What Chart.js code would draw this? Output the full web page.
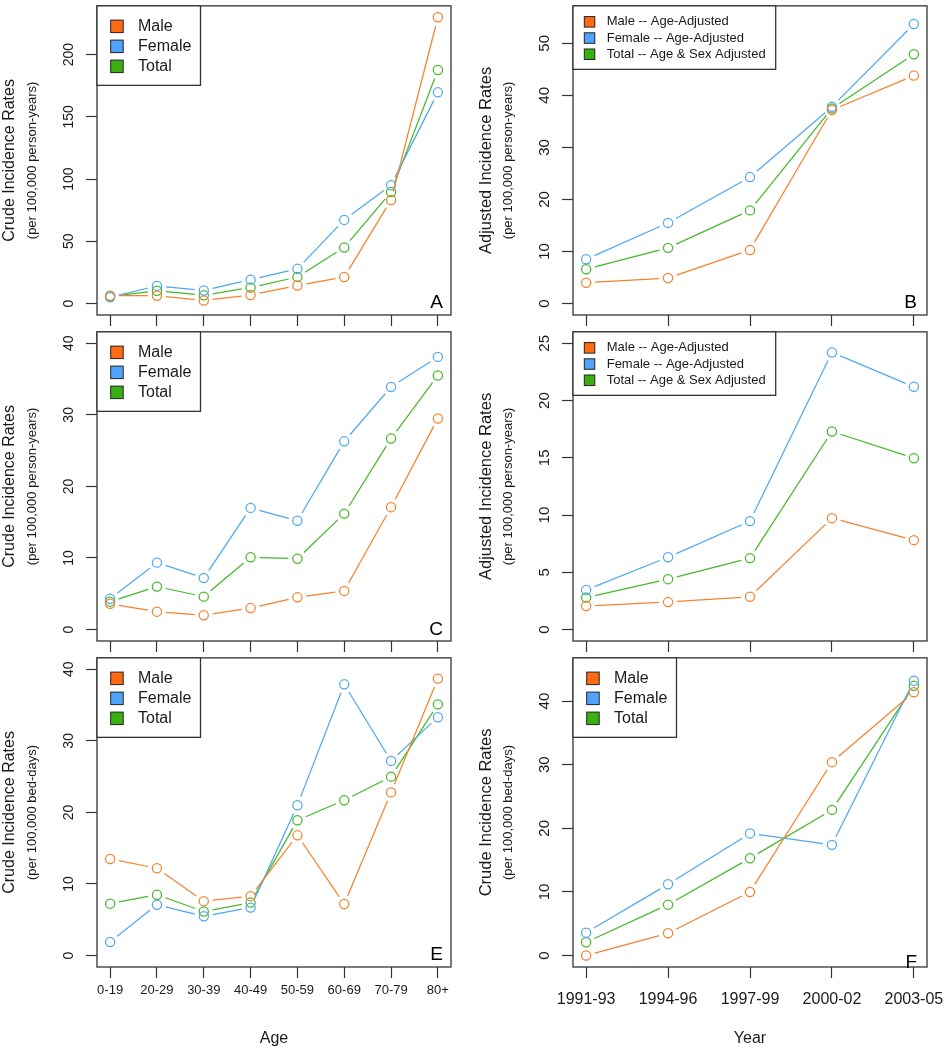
<!DOCTYPE html>
<html>
<head>
<meta charset="utf-8">
<script src="https://cdn.jsdelivr.net/npm/chart.js@4/dist/chart.umd.min.js"></script>
<style>
  html, body { margin: 0; padding: 0; background: #fff; }
  #wrap { position: relative; width: 945px; height: 1050px; overflow: hidden; }
  #wrap canvas { position: absolute; }
</style>
</head>
<body>
<div id="wrap"></div>
<script>
// ====== Data ======
const ageGroups = ["0-19", "20-29", "30-39", "40-49", "50-59", "60-69", "70-79", "80+"];
const yearGroups = ["1991-93", "1994-96", "1997-99", "2000-02", "2003-05"];

const sexLabels = ["Male", "Female", "Total"];
const adjLabels = ["Male -- Age-Adjusted", "Female -- Age-Adjusted", "Total -- Age & Sex Adjusted"];

// A: crude rates by age (person-years)
const maleA = [6.3, 6.3, 2.4, 6.9, 14.5, 21.3, 83.2, 230];
const femaleA = [5.0, 14.2, 10.5, 19.2, 27.9, 67.2, 95.1, 169.7];
const totalA = [5.8, 10.3, 6.6, 12.9, 21.3, 45.0, 89.6, 187.6];

// B: adjusted rates by year (person-years)
const maleB = [4.0, 4.9, 10.3, 37.2, 43.8];
const femaleB = [8.5, 15.5, 24.3, 37.8, 53.7];
const totalB = [6.6, 10.7, 17.9, 37.5, 47.9];

// C: crude rates by age (person-years)
const maleC = [3.6, 2.5, 2.0, 3.0, 4.5, 5.4, 17.1, 29.5];
const femaleC = [4.3, 9.35, 7.2, 17.0, 15.2, 26.3, 33.9, 38.1];
const totalC = [3.9, 6.0, 4.6, 10.1, 9.9, 16.2, 26.7, 35.5];

// D: adjusted rates by year (person-years)
const maleD = [2.06, 2.4, 2.86, 9.73, 7.81];
const femaleD = [3.46, 6.32, 9.47, 24.2, 21.2];
const totalD = [2.8, 4.4, 6.24, 17.3, 14.96];

// E: crude rates by age (bed-days)
const maleE = [13.5, 12.2, 7.6, 8.3, 16.8, 7.2, 22.8, 38.7];
const femaleE = [1.9, 7.1, 5.5, 6.7, 21.0, 37.9, 27.2, 33.3];
const totalE = [7.25, 8.5, 6.15, 7.4, 18.9, 21.7, 25.0, 35.1];

// F: crude rates by year (bed-days)
const maleF = [0.0, 3.5, 10.0, 30.4, 41.4];
const femaleF = [3.6, 11.2, 19.2, 17.4, 43.2];
const totalF = [2.1, 8.0, 15.3, 22.9, 42.4];

// y limits (before R-style 4% extension) and tick labels
const ylimA = [0, 230], ticksA = [0, 50, 100, 150, 200];
const ylimB = [0, 55], ticksB = [0, 10, 20, 30, 40, 50];
const ylimC = [0, 40], ticksC = [0, 10, 20, 30, 40];
const ylimD = [0, 25], ticksD = [0, 5, 10, 15, 20, 25];
const ylimE = [0, 40], ticksE = [0, 10, 20, 30, 40];
const ylimF = [0, 45], ticksF = [0, 10, 20, 30, 40];

// ====== Styles ======
const lineColors = ["#f5822e", "#4fa8f0", "#46b82a"];
const fillColors = ["#ff6a13", "#4fa3fa", "#3aaf12"];
const FONT = '"Liberation Sans", Arial, Helvetica, sans-serif';
const INK = "#1a1a1a";
const GAP = 9;

const colLeft = [0, 472], colWidth = [472, 473];
const boxLeft = [97, 101], boxRight = [451, 455];
const boxTop = [1, 327, 653], boxBottom = [315, 641, 967];

const bigLegend = { w: 103.5, h: 79.5, sq: 12.5, sqX: 13.7, textX: 41, row0: 20.5, rowH: 20, font: 16 };
const smallLegend = { w: 202.7, h: 63.5, sq: 10.5, sqX: 11.3, textX: 33.7, row0: 16, rowH: 16.2, font: 13 };

// line segments stop short of the points, like R's type="b"
function gapDash(ctx) {
  const L = Math.hypot(ctx.p1.x - ctx.p0.x, ctx.p1.y - ctx.p0.y);
  const g = Math.min(GAP, L / 2);
  return [0, g, Math.max(L - 2 * g, 0), g];
}

// ====== Panel decorations: box, rotated y labels, titles, legend, letter ======
const panelDecor = {
  id: "panelDecor",
  afterDraw(chart, args, o) {
    const { ctx, chartArea: a, scales } = chart;
    ctx.save();

    ctx.strokeStyle = "#333";
    ctx.lineWidth = 1.3;
    ctx.strokeRect(a.left, a.top, a.right - a.left, a.bottom - a.top);

    // y tick labels, rotated
    const y = scales.y;
    ctx.fillStyle = INK;
    ctx.font = `${o.tickSize}px ${FONT}`;
    ctx.textAlign = "center";
    ctx.textBaseline = "middle";
    y.ticks.forEach((t) => {
      ctx.save();
      ctx.translate(a.left - 28, y.getPixelForValue(t.value));
      ctx.rotate(-Math.PI / 2);
      ctx.fillText(String(t.value), 0, 0);
      ctx.restore();
    });

    // y titles
    const cy = (a.top + a.bottom) / 2;
    ctx.save();
    ctx.translate(a.left - 87, cy);
    ctx.rotate(-Math.PI / 2);
    ctx.font = `${o.titleSize}px ${FONT}`;
    ctx.fillText(o.title, 0, 0);
    ctx.restore();
    ctx.save();
    ctx.translate(a.left - 65, cy);
    ctx.rotate(-Math.PI / 2);
    ctx.font = `13px ${FONT}`;
    ctx.fillText(o.sub, 0, 0);
    ctx.restore();

    // legend
    const lg = o.legend;
    ctx.fillStyle = "#fff";
    ctx.fillRect(a.left, a.top, lg.w, lg.h);
    ctx.strokeStyle = "#333";
    ctx.lineWidth = 1.3;
    ctx.strokeRect(a.left, a.top, lg.w, lg.h);
    ctx.font = `${lg.font}px ${FONT}`;
    ctx.textAlign = "left";
    chart.data.datasets.forEach((ds, i) => {
      const ry = a.top + lg.row0 + i * lg.rowH;
      ctx.fillStyle = fillColors[i];
      ctx.fillRect(a.left + lg.sqX, ry - lg.sq / 2, lg.sq, lg.sq);
      ctx.strokeStyle = "#222";
      ctx.lineWidth = 1;
      ctx.strokeRect(a.left + lg.sqX, ry - lg.sq / 2, lg.sq, lg.sq);
      ctx.fillStyle = INK;
      ctx.fillText(ds.label, a.left + lg.textX, ry);
    });

    // panel letter
    if (o.letter) {
      ctx.font = `19px ${FONT}`;
      ctx.textAlign = "right";
      ctx.textBaseline = "alphabetic";
      ctx.fillStyle = "#000";
      ctx.fillText(o.letter, a.right - o.letterDx, a.bottom + o.letterDy);
    }
    ctx.restore();
  },
};

// ====== Build one panel ======
function makePanel(p) {
  const xh = p.row === 2 ? 1050 - boxBottom[2] : 11;
  const showX = p.row === 2;
  const canvas = document.createElement("canvas");
  const top = boxTop[p.row] - 1;
  const height = boxBottom[p.row] - boxTop[p.row] + 1 + xh;
  canvas.width = colWidth[p.col];
  canvas.height = height;
  canvas.style.left = colLeft[p.col] + "px";
  canvas.style.top = top + "px";
  document.getElementById("wrap").appendChild(canvas);

  const n = p.cats.length;
  const xExt = (n - 1) * 0.04;
  const yExt = (p.ylim[1] - p.ylim[0]) * 0.04;

  return new Chart(canvas, {
    type: "line",
    data: {
      datasets: p.series.map((vals, i) => ({
        label: p.labels[i],
        data: vals.map((v, k) => ({ x: k, y: v })),
        borderColor: lineColors[i],
        borderWidth: 1.25,
        tension: 0,
        fill: false,
        pointStyle: "circle",
        pointRadius: 4.6,
        pointBorderWidth: 1.25,
        pointBorderColor: lineColors[i],
        pointBackgroundColor: "rgba(0,0,0,0)",
        segment: { borderDash: gapDash },
      })),
    },
    options: {
      responsive: false,
      animation: false,
      events: [],
      layout: { padding: { top: 1, left: 0, bottom: 0, right: colWidth[p.col] - boxRight[p.col] } },
      plugins: {
        legend: { display: false },
        tooltip: { enabled: false },
        panelDecor: {
          title: p.title,
          sub: p.sub,
          letter: p.letter,
          letterDx: p.col === 0 ? 8 : 10,
          letterDy: p.letterDy,
          tickSize: p.col === 0 ? 14 : 15,
          titleSize: p.col === 0 ? 16 : 16.5,
          legend: p.legend,
        },
      },
      scales: {
        x: {
          type: "linear",
          min: -xExt,
          max: n - 1 + xExt,
          afterBuildTicks: (s) => { s.ticks = p.cats.map((c, i) => ({ value: i })); },
          afterFit: (s) => { s.height = xh; s.paddingLeft = 0; s.paddingRight = 0; },
          grid: { drawOnChartArea: false, drawTicks: true, tickLength: 11, tickColor: "#333", tickWidth: 1.2 },
          border: { display: false },
          ticks: {
            display: showX,
            autoSkip: false,
            maxRotation: 0,
            minRotation: 0,
            padding: p.xPad,
            color: INK,
            font: { family: FONT, size: p.xFont },
            callback: (v) => p.cats[v],
          },
          title: {
            display: showX,
            text: p.xTitle,
            color: INK,
            font: { family: FONT, size: 16 },
            padding: { top: 0, bottom: 1.4 },
          },
        },
        y: {
          min: p.ylim[0] - yExt,
          max: p.ylim[1] + yExt,
          afterBuildTicks: (s) => { s.ticks = p.yTicks.map((v) => ({ value: v })); },
          afterFit: (s) => { s.width = boxLeft[p.col]; },
          grid: { drawOnChartArea: false, drawTicks: true, tickLength: 11, tickColor: "#333", tickWidth: 1.2 },
          border: { display: false },
          ticks: { display: false },
        },
      },
    },
    plugins: [panelDecor],
  });
}

// ====== Panels ======
const personYears = "(per 100,000 person-years)";
const bedDays = "(per 100,000 bed-days)";

makePanel({ row: 0, col: 0, cats: ageGroups, series: [maleA, femaleA, totalA], labels: sexLabels,
  ylim: ylimA, yTicks: ticksA, title: "Crude Incidence Rates", sub: personYears, letter: "A", letterDy: -7, legend: bigLegend });
makePanel({ row: 0, col: 1, cats: yearGroups, series: [maleB, femaleB, totalB], labels: adjLabels,
  ylim: ylimB, yTicks: ticksB, title: "Adjusted Incidence Rates", sub: personYears, letter: "B", letterDy: -7, legend: smallLegend });
makePanel({ row: 1, col: 0, cats: ageGroups, series: [maleC, femaleC, totalC], labels: sexLabels,
  ylim: ylimC, yTicks: ticksC, title: "Crude Incidence Rates", sub: personYears, letter: "C", letterDy: -6, legend: bigLegend });
makePanel({ row: 1, col: 1, cats: yearGroups, series: [maleD, femaleD, totalD], labels: adjLabels,
  ylim: ylimD, yTicks: ticksD, title: "Adjusted Incidence Rates", sub: personYears, letter: "", letterDy: 0, legend: smallLegend });
makePanel({ row: 2, col: 0, cats: ageGroups, series: [maleE, femaleE, totalE], labels: sexLabels,
  ylim: ylimE, yTicks: ticksE, title: "Crude Incidence Rates", sub: bedDays, letter: "E", letterDy: -7, legend: bigLegend,
  xTitle: "Age", xFont: 13, xPad: 5 });
makePanel({ row: 2, col: 1, cats: yearGroups, series: [maleF, femaleF, totalF], labels: sexLabels,
  ylim: ylimF, yTicks: ticksF, title: "Crude Incidence Rates", sub: bedDays, letter: "F", letterDy: 1, legend: bigLegend,
  xTitle: "Year", xFont: 16, xPad: 12 });
</script>
</body>
</html>
